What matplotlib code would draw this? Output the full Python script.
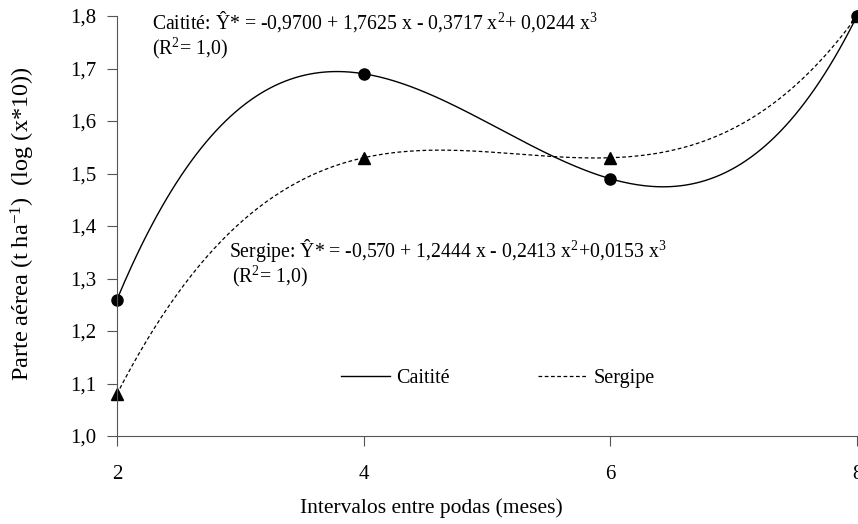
import numpy as np
import matplotlib
matplotlib.use("Agg")
import matplotlib.pyplot as plt

plt.rcParams['font.family'] = ['Liberation Serif', 'DejaVu Serif']
plt.rcParams['mathtext.fontset'] = 'custom'
plt.rcParams['mathtext.rm'] = 'Liberation Serif'
plt.rcParams['mathtext.it'] = 'Liberation Serif:italic'

meses = [2, 4, 6, 8]
caitite = [1.26, 1.69, 1.49, 1.80]
sergipe = [1.08, 1.53, 1.53, 1.80]
yticks = [1.0, 1.1, 1.2, 1.3, 1.4, 1.5, 1.6, 1.7, 1.8]
ytick_labels = ['1,0', '1,1', '1,2', '1,3', '1,4', '1,5', '1,6', '1,7', '1,8']

fig = plt.figure(figsize=(8.58, 5.24), dpi=100)
ax = fig.add_axes([117/858, 1-436/524, 740/858, 420/524])

xs = np.linspace(2, 8, 300)
pc = np.polyfit(meses, caitite, 3)
ps = np.polyfit(meses, sergipe, 3)
ax.plot(xs, np.polyval(pc, xs), color='black', lw=1.0, label='Caitité')
ax.plot(xs, np.polyval(ps, xs), color='black', lw=0.9, ls=(0, (3, 2)), label='Sergipe')
ax.plot(meses, caitite, 'o', color='black', ms=8, clip_on=False)
ax.plot(meses, sergipe, '^', color='black', ms=8, clip_on=False)

ax.set_xlim(2, 8)
ax.set_ylim(1.0, 1.8)
ax.set_xticks(meses)
ax.set_xticklabels([str(m) for m in meses])
ax.set_yticks(yticks)
ax.set_yticklabels(ytick_labels)
for s in ['top', 'right']:
    ax.spines[s].set_visible(False)
for s in ['left', 'bottom']:
    ax.spines[s].set_color('#555555')
ax.tick_params(direction='out', length=7, color='#555555', labelsize=15, pad=8)
ax.tick_params(axis='x', pad=14)

fig.text(431/858, 1-508/524, 'Intervalos entre podas (meses)', fontsize=15.5, ha='center', va='center')
fig.text(23/858, 1-224/524, 'Parte aérea (t ha$\\mathregular{^{-1}}$)  (log (x*10))', fontsize=17.5,
         rotation=90, ha='center', va='center')

ax.text(152/858, 1-22/524, 'Caitité: Ŷ* = -0,9700 + 1,7625 x - 0,3717 x$\\mathregular{^{2}}$+ 0,0244 x$\\mathregular{^{3}}$',
        transform=fig.transFigure, fontsize=14.2, va='center', ha='left')
ax.text(152/858, 1-48/524, '(R$\\mathregular{^{2}}$= 1,0)', transform=fig.transFigure, fontsize=14.2, va='center', ha='left')
ax.text(229/858, 1-250/524, 'Sergipe: Ŷ* = -0,570 + 1,2444 x - 0,2413 x$\\mathregular{^{2}}$+0,0153 x$\\mathregular{^{3}}$',
        transform=fig.transFigure, fontsize=14.2, va='center', ha='left')
ax.text(232/858, 1-276/524, '(R$\\mathregular{^{2}}$= 1,0)', transform=fig.transFigure, fontsize=14.2, va='center', ha='left')

ax.legend(loc='center', bbox_to_anchor=(498/858, 1-378/524), bbox_transform=fig.transFigure,
          ncol=2, frameon=False, fontsize=14.5, handlelength=2.45, columnspacing=4.4, handletextpad=0.3)

fig.savefig('out.png', dpi=100)
